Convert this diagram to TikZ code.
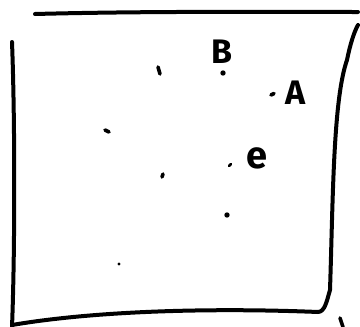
\documentclass[tikz,border=0pt]{standalone}
\usepackage{fontspec}
\setmainfont{Fira Sans}
\begin{document}
\begin{tikzpicture}[x=1pt,y=-1pt,
  frame/.style={line width=4pt,line cap=round,line join=round},
  tick/.style={line width=3.6pt,line cap=round},
  lbl/.style={inner sep=0pt,font=\bfseries}]
\useasboundingbox (0,0) rectangle (360,327);
% frame
\draw[frame] (35,14) .. controls (150,11) and (280,12) .. (358,12);
\draw[frame] (12,42) .. controls (15,120) and (15,250) .. (12,327);
\draw[frame] (12,325) .. controls (100,310) and (220,308) .. (318,312)
  .. controls (325,312) and (327,300) .. (330,290)
  .. controls (333,200) and (333,100) .. (347,60)
  .. controls (350,45) and (354,32) .. (358,25);
\draw[tick] (340,318) -- (343,327);
% marks
\draw[tick] (158,67) -- (160,74);
\fill (223,73) circle (2.7);
\draw[tick] (271,95) -- (274,93.5);
\draw[tick] (105,130) -- (109,132);
\draw[line width=2.6pt,line cap=round] (229,166) -- (231,164);
\draw[tick] (163,174) -- (162,177);
\fill (227,215) circle (2.7);
\fill (119,264) circle (1.6);
% labels
\node[lbl,font=\fontsize{34}{34}\selectfont\bfseries] (B) at (222,52) {B};
\node[lbl,font=\fontsize{34}{34}\selectfont\bfseries] (A) at (296,93) {A};
\node[lbl,font=\fontsize{38}{38}\selectfont\bfseries] (e) at (257,158) {e};
\end{tikzpicture}
\end{document}
